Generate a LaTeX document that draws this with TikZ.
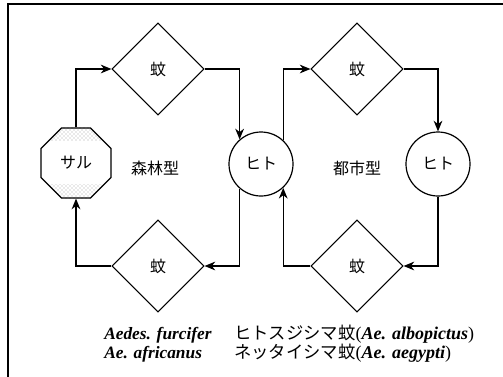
\documentclass[tikz,border=0pt]{standalone}
\usepackage{fontspec}
\setmainfont{Liberation Serif}
\newfontfamily\jpfont{Noto Sans CJK JP}
\newcommand\latinpart{\rmfamily\fontsize{13.5}{15}\selectfont}
\usetikzlibrary{shapes.geometric,arrows.meta,patterns,backgrounds}

\begin{document}
\begin{tikzpicture}[x=0.75pt,y=-0.75pt,
  jp/.style={font=\jpfont\fontsize{12}{14}\selectfont},
  mosq/.style={diamond, draw, line width=0.8pt, minimum width=69pt,
    minimum height=69pt, inner sep=0pt, jp},
  host/.style={circle, draw, line width=0.9pt, minimum size=48pt,
    inner sep=0pt, jp},
  monkey/.style={regular polygon, regular polygon sides=8, draw,
    line width=0.9pt, minimum size=56.8pt, inner sep=0pt, jp},
  link/.style={line width=1.1pt,
    -{Stealth[length=8pt,width=6.5pt,inset=2.5pt]}},
  latin/.style={anchor=base west, inner sep=0pt,
    font=\bfseries\itshape\fontsize{13}{15}\selectfont},
  jpline/.style={anchor=base west, inner sep=0pt,
    font=\jpfont\fontsize{13}{15}\selectfont},
]
\useasboundingbox (0,0) rectangle (503,376);

% outer frame (open to the right and bottom)
\draw[line width=1.3pt] (8,390) -- (8,4) -- (520,4);

% nodes
\node[monkey] (saru) at (76,163) {サル};
\node[mosq] (kaTL) at (158,69) {蚊};
\node[mosq] (kaBL) at (158,266) {蚊};
\node[host] (hito1) at (261,164) {ヒト};
\node[mosq] (kaTR) at (357,69) {蚊};
\node[mosq] (kaBR) at (357,266) {蚊};
\node[host] (hito2) at (438,164) {ヒト};

\node[jp] (forest) at (155,168) {森林型};
\node[jp] (urban) at (357,168) {都市型};

% stippled bands of the octagon
\begin{scope}[on background layer]
  \clip (30,126) rectangle (125,141) (30,184) rectangle (125,200);
  \fill[pattern=crosshatch dots, pattern color=gray!70]
    (saru.corner 1) \foreach \k in {2,...,8} { -- (saru.corner \k) } -- cycle;
\end{scope}

% sylvatic cycle
\draw[link] (saru.north) |- (kaTL.west);
\draw[link] (kaTL.east) -| (hito1.131);
\draw[link] (hito1.-131) |- (kaBL.east);
\draw[link] (kaBL.west) -| (saru.south);

% urban cycle
\draw[link] (hito1.47) |- (kaTR.west);
\draw[link] (kaTR.east) -| (hito2.north);
\draw[link] (hito2.south) |- (kaBR.east);
\draw[link] (kaBR.west) -| (hito1.-47);

% vector species
\node[latin] (sp1) at (104,339) {Aedes. furcifer};
\node[latin] (sp2) at (104,358) {Ae. africanus};
\node[jpline] (jp1) at (234,339) {ヒトスジシマ蚊{\latinpart(\textbf{\textit{Ae. albopictus}})}};
\node[jpline] (jp2) at (234,358) {ネッタイシマ蚊{\latinpart(\textbf{\textit{Ae. aegypti}})}};
\end{tikzpicture}
\end{document}
